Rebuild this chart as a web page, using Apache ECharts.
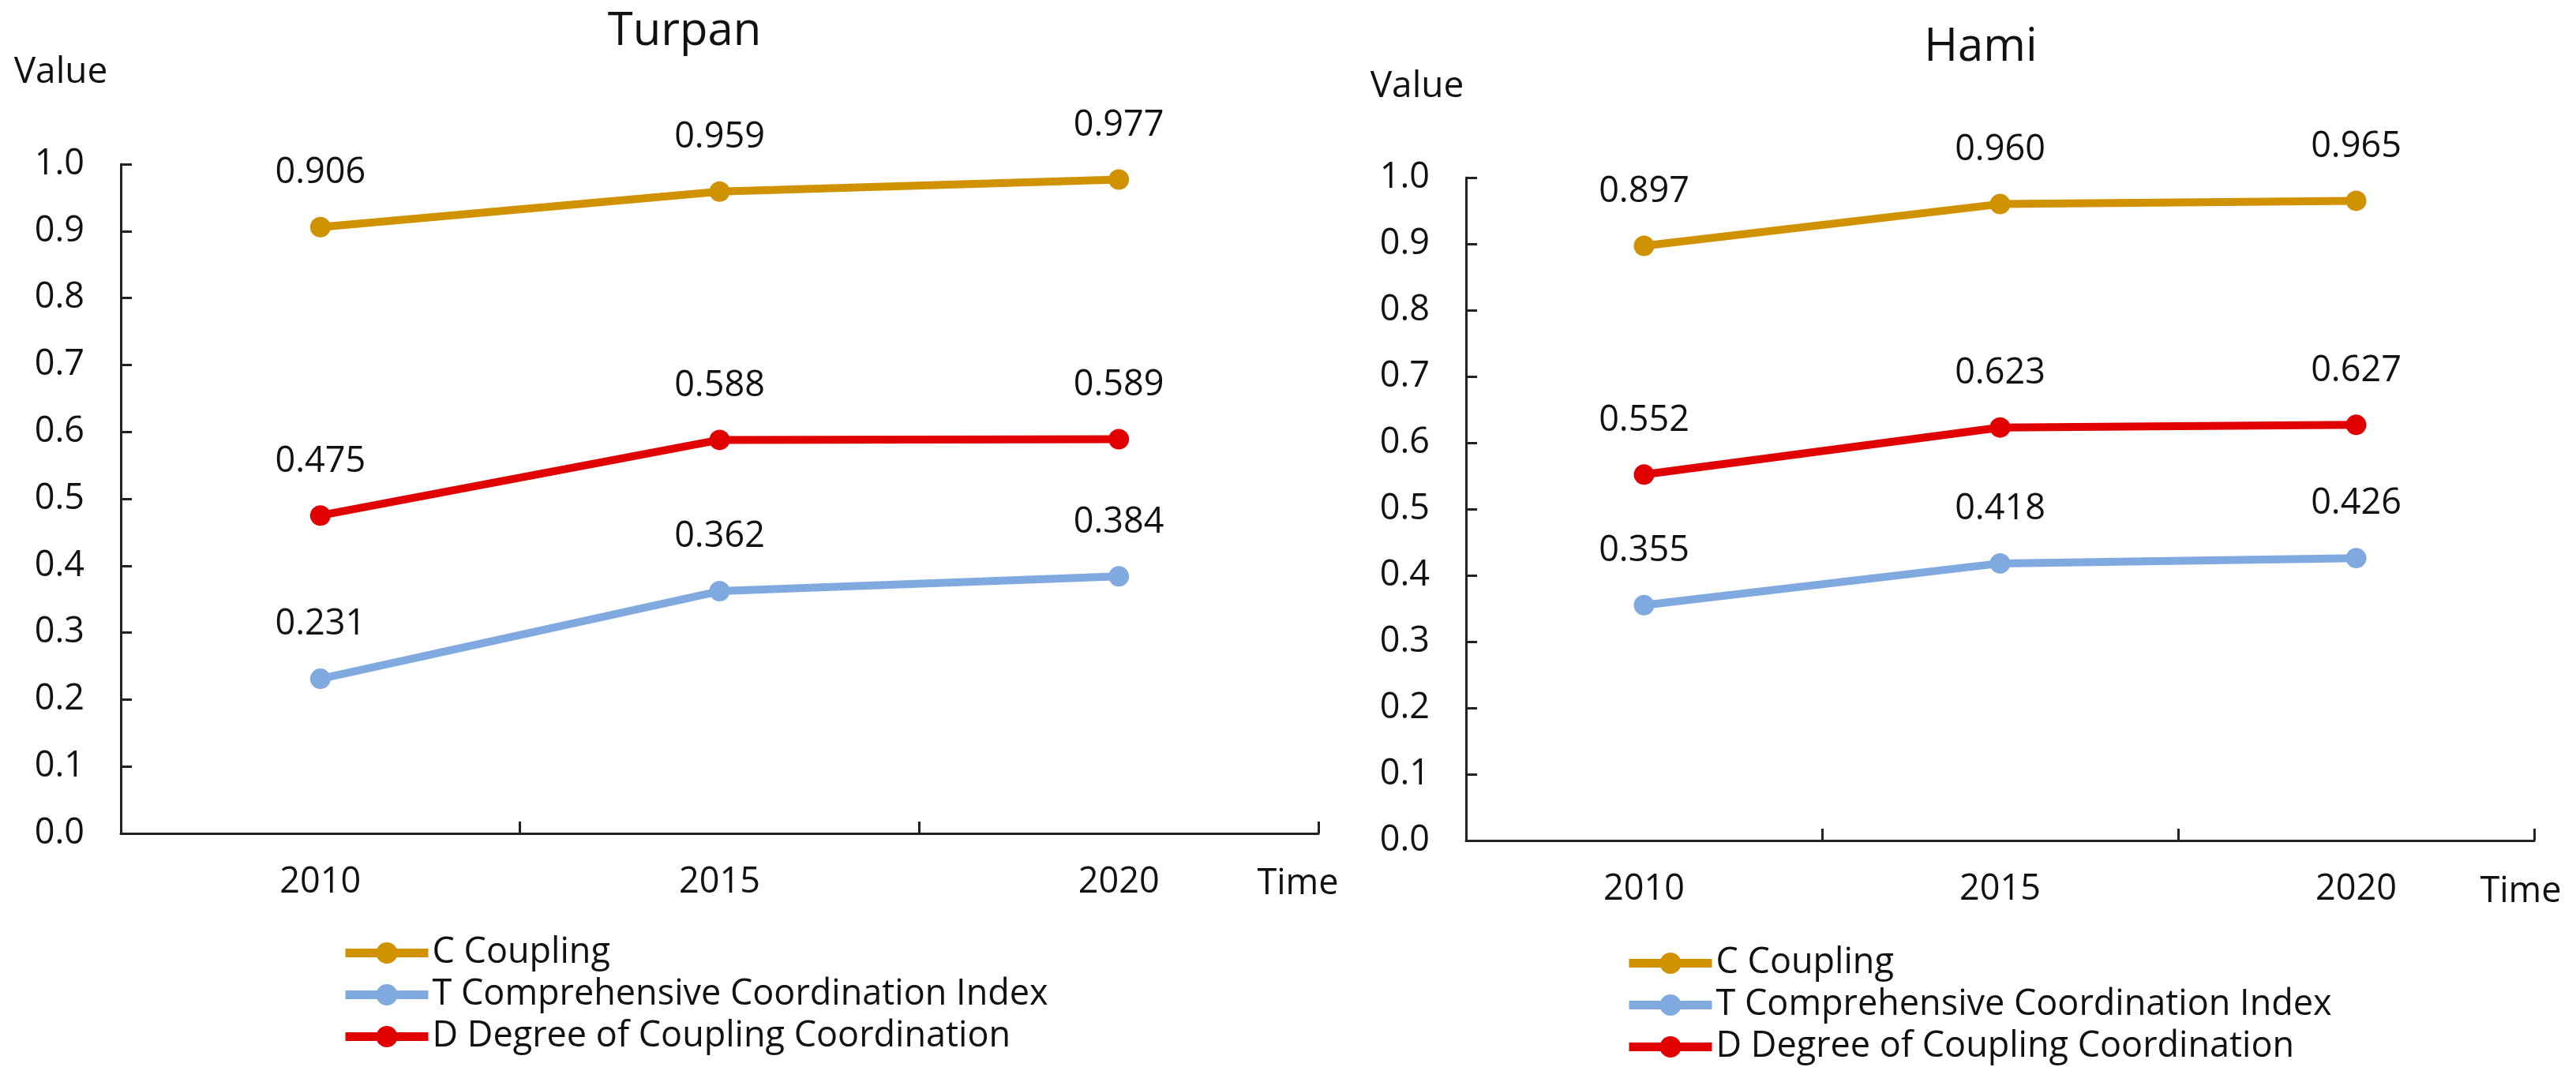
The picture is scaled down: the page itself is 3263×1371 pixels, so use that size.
<!DOCTYPE html>
<html>
<head>
<meta charset="utf-8">
<script src="https://cdn.jsdelivr.net/npm/echarts@6/dist/echarts.min.js"></script>
<style>
html,body{margin:0;padding:0;background:#fff;}
#chart{width:3263px;height:1371px;}
</style>
</head>
<body>
<div id="chart"></div>
<script>
const years = ['2010', '2015', '2020'];
const seriesNames = ['C Coupling', 'T Comprehensive Coordination Index', 'D Degree of Coupling Coordination'];
const turpanC = [0.906, 0.959, 0.977];
const turpanT = [0.231, 0.362, 0.384];
const turpanD = [0.475, 0.588, 0.589];
const hamiC = [0.897, 0.960, 0.965];
const hamiT = [0.355, 0.418, 0.426];
const hamiD = [0.552, 0.623, 0.627];
const chartTitles = ['Turpan', 'Hami'];

const colors = ['#D09200', '#80AADF', '#E00000'];
const FONT = 'Open Sans';
const TXT = '#111';

const chart = echarts.init(document.getElementById('chart'));

function xAxisCfg(gi) {
  return {
    type: 'category', gridIndex: gi, data: years, boundaryGap: true,
    axisLine: { lineStyle: { color: '#222', width: 3 } },
    axisTick: { show: true, inside: true, length: 15, alignWithLabel: false, lineStyle: { color: '#222', width: 3 } },
    axisLabel: { color: TXT, fontSize: 45, fontFamily: FONT, margin: 40 },
    splitLine: { show: false }
  };
}
function yAxisCfg(gi) {
  return {
    type: 'value', gridIndex: gi, min: 0, max: 1, interval: 0.1,
    axisLine: { show: true, lineStyle: { color: '#222', width: 3 } },
    axisTick: { show: true, inside: true, length: 14, lineStyle: { color: '#222', width: 3 } },
    axisLabel: { color: TXT, fontSize: 45, fontFamily: FONT, margin: 46, formatter: v => v.toFixed(1) },
    splitLine: { show: false }
  };
}
function lineSeries(name, data, ci, gi) {
  return {
    type: 'line', name: name, data: data, xAxisIndex: gi, yAxisIndex: gi,
    symbol: 'circle', symbolSize: 26,
    lineStyle: { color: colors[ci], width: 10 },
    itemStyle: { color: colors[ci] },
    label: { show: true, position: 'top', distance: 33, color: TXT, fontSize: 45, fontFamily: FONT,
             formatter: p => p.value.toFixed(3) },
    emphasis: { disabled: true },
    animation: false
  };
}
function txt(text, x, y, size, align) {
  return { type: 'text', x: x, y: y, style: { text: text, fill: TXT, font: size + 'px "' + FONT + '"', align: align || 'center', verticalAlign: 'middle' } };
}
function legendCfg(left, top) {
  return {
    orient: 'vertical', left: left, top: top, itemWidth: 105, itemHeight: 34, itemGap: 8,
    data: seriesNames, selectedMode: false,
    lineStyle: { width: 11 },
    textStyle: { color: TXT, fontSize: 45, fontFamily: FONT }
  };
}

const option = {
  animation: false,
  backgroundColor: '#fff',
  grid: [
    { left: 153, top: 208, width: 1517, height: 848, containLabel: false },
    { left: 1857, top: 225, width: 1353, height: 840, containLabel: false }
  ],
  xAxis: [xAxisCfg(0), xAxisCfg(1)],
  yAxis: [yAxisCfg(0), yAxisCfg(1)],
  legend: [legendCfg(427, 1180), legendCfg(2053, 1193)],
  graphic: [
    txt(chartTitles[0], 867, 40, 58),
    txt(chartTitles[1], 2509, 60, 58),
    txt('Value', 77, 92, 46),
    txt('Value', 1795, 110, 46),
    txt('Time', 1644, 1120, 45),
    txt('Time', 3193, 1130, 45)
  ],
  series: [
    lineSeries(seriesNames[0], turpanC, 0, 0),
    lineSeries(seriesNames[1], turpanT, 1, 0),
    lineSeries(seriesNames[2], turpanD, 2, 0),
    lineSeries(seriesNames[0], hamiC, 0, 1),
    lineSeries(seriesNames[1], hamiT, 1, 1),
    lineSeries(seriesNames[2], hamiD, 2, 1)
  ]
};
chart.setOption(option);
</script>
</body>
</html>
